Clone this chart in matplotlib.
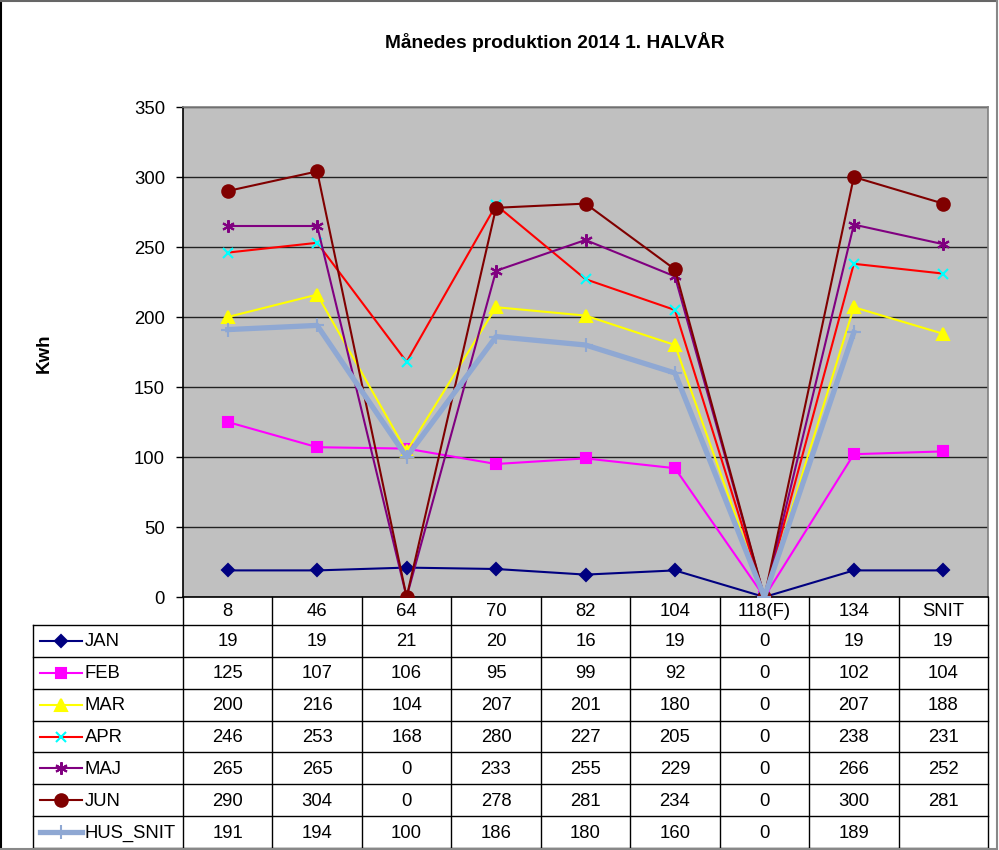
import matplotlib
matplotlib.use("Agg")
import matplotlib.pyplot as plt
import numpy as np
from matplotlib.lines import Line2D

plt.rcParams['font.family'] = ['Liberation Sans', 'DejaVu Sans']

# data
categories = ["8", "46", "64", "70", "82", "104", "118(F)", "134", "SNIT"]
jan = [19, 19, 21, 20, 16, 19, 0, 19, 19]
feb = [125, 107, 106, 95, 99, 92, 0, 102, 104]
mar = [200, 216, 104, 207, 201, 180, 0, 207, 188]
apr = [246, 253, 168, 280, 227, 205, 0, 238, 231]
maj = [265, 265, 0, 233, 255, 229, 0, 266, 252]
jun = [290, 304, 0, 278, 281, 234, 0, 300, 281]
hus_snit = [191, 194, 100, 186, 180, 160, 0, 189, None]

series_names = ["JAN", "FEB", "MAR", "APR", "MAJ", "JUN", "HUS_SNIT"]
series_values = [jan, feb, mar, apr, maj, jun, hus_snit]

# style per series: line colour, marker, marker face, marker edge, size, line width
styles = [
    dict(color="#000080", marker="D", mfc="#000080", mec="#000080", ms=6.5, lw=1.5),
    dict(color="#FF00FF", marker="s", mfc="#FF00FF", mec="#FF00FF", ms=7.5, lw=1.5),
    dict(color="#FFFF00", marker="^", mfc="#FFFF00", mec="#FFFF00", ms=8, lw=1.5),
    dict(color="#FF0000", marker="x", mfc="#00FFFF", mec="#00FFFF", ms=7, lw=1.5),
    dict(color="#800080", marker=(6, 2, 0), mfc="#800080", mec="#800080", ms=9, lw=1.5),
    dict(color="#800000", marker="o", mfc="#800000", mec="#800000", ms=9, lw=1.5),
    dict(color="#8FA8D3", marker="+", mfc="#8FA8D3", mec="#8FA8D3", ms=10, lw=3.8),
]

FS = 13.3

W, H = 999, 850
fig = plt.figure(figsize=(W / 100, H / 100), dpi=100)
fig.patch.set_facecolor("white")

# pixel geometry of the plot area / table
px_left, px_right = 183, 988
px_top, px_bottom = 107, 597
tab_left, tab_bottom = 33, 848
header_h = 28
n_rows = len(series_names)
row_h = (tab_bottom - px_bottom - header_h) / n_rows

ax = fig.add_axes([px_left / W, 1 - px_bottom / H,
                   (px_right - px_left) / W, (px_bottom - px_top) / H])
ax.set_facecolor("#C0C0C0")
x = np.arange(len(categories))
for name, vals, st in zip(series_names, series_values, styles):
    y = np.array([np.nan if v is None else v for v in vals], dtype=float)
    ax.plot(x, y, color=st["color"], lw=st["lw"], marker=st["marker"],
            markerfacecolor=st["mfc"], markeredgecolor=st["mec"],
            markersize=st["ms"], markeredgewidth=1.5, zorder=3)

ax.set_xlim(-0.5, len(categories) - 0.5)
ax.set_ylim(0, 350)
ax.set_yticks(np.arange(0, 351, 50))
ax.set_xticks([])
ax.yaxis.grid(True, color="#222222", lw=1)
ax.set_axisbelow(True)
ax.tick_params(axis="y", direction="out", length=5, width=1, labelsize=FS, pad=8)
ax.spines["left"].set_color("black")
ax.spines["bottom"].set_color("black")
ax.spines["top"].set_color("#808080")
ax.spines["right"].set_color("#808080")
for s in ax.spines.values():
    s.set_linewidth(1.2)

fig.text(555 / W, 1 - 42 / H, "Månedes produktion 2014 1. HALVÅR",
         ha="center", va="center", fontsize=13.8, fontweight="bold")
fig.text(44 / W, 1 - 353 / H, "Kwh", rotation=90, ha="center", va="center",
         fontsize=13.5, fontweight="bold")

# data table underneath
tax = fig.add_axes([0, 0, 1, 1])
tax.set_xlim(0, W)
tax.set_ylim(H, 0)
tax.axis("off")
col_w = (px_right - px_left) / len(categories)

lc = "black"
# horizontal lines
tax.plot([tab_left, px_right], [px_bottom + header_h] * 2, color=lc, lw=1)
for r in range(1, n_rows + 1):
    yy = px_bottom + header_h + r * row_h
    tax.plot([tab_left, px_right], [yy, yy], color=lc, lw=1)
# vertical lines
tax.plot([tab_left, tab_left], [px_bottom + header_h, tab_bottom], color=lc, lw=1)
for c in range(len(categories) + 1):
    xx = px_left + c * col_w
    tax.plot([xx, xx], [px_bottom, tab_bottom], color=lc, lw=1)

for c, cat in enumerate(categories):
    tax.text(px_left + (c + 0.5) * col_w, px_bottom + header_h / 2 + 1, cat,
             ha="center", va="center", fontsize=FS)

for r, (name, vals, st) in enumerate(zip(series_names, series_values, styles)):
    yc = px_bottom + header_h + (r + 0.5) * row_h + 1
    tax.add_line(Line2D([40, 82], [yc - 1, yc - 1], color=st["color"], lw=st["lw"]))
    tax.add_line(Line2D([61], [yc - 1], marker=st["marker"], markerfacecolor=st["mfc"],
                        markeredgecolor=st["mec"], markersize=st["ms"],
                        markeredgewidth=1.5))
    tax.text(85, yc, name, ha="left", va="center", fontsize=FS)
    for c, v in enumerate(vals):
        if v is None:
            continue
        tax.text(px_left + (c + 0.5) * col_w, yc, str(v),
                 ha="center", va="center", fontsize=FS)

# outer chart frame
tax.plot([0.5, 0.5], [1, H - 1], color="black", lw=1.5)
tax.plot([0.5, W - 2], [1, 1], color="#666666", lw=1.5)
tax.plot([W - 2, W - 2], [1, H - 1], color="#888888", lw=1.5)
tax.plot([0.5, W - 2], [H - 1, H - 1], color="#888888", lw=1.5)

fig.savefig("out.png", dpi=100)
